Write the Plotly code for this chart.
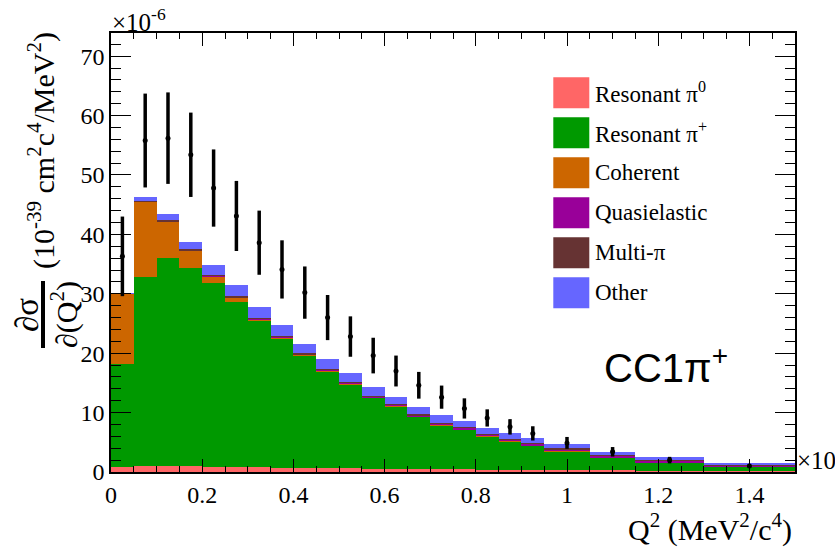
import plotly.graph_objects as go

# ---------------- data ----------------
bin_edges = [0.0, 0.05, 0.1, 0.15, 0.2, 0.25, 0.3, 0.35, 0.4, 0.45, 0.5, 0.55,
             0.6, 0.65, 0.7, 0.75, 0.8, 0.85, 0.9, 0.95, 1.05, 1.15, 1.3, 1.5]

res_pi0 = [0.9, 1.0, 1.0, 1.0, 0.9, 0.85, 0.8, 0.75, 0.7, 0.65, 0.6, 0.55,
           0.5, 0.5, 0.45, 0.45, 0.4, 0.4, 0.35, 0.3, 0.3, 0.25, 0.2]
res_pip = [17.3, 31.8, 35.0, 33.3, 31.0, 27.85, 24.7, 21.75, 18.9, 16.35, 14.2, 11.95,
           10.6, 8.8, 7.45, 6.65, 5.6, 4.8, 4.05, 3.2, 2.1, 1.35, 0.65]
coherent = [11.8, 12.7, 6.2, 3.0, 1.0, 0.6, 0.2, 0.15, 0.1, 0.08, 0.06, 0.05,
            0.05, 0.04, 0.03, 0.03, 0.02, 0.02, 0.02, 0.01, 0.01, 0.01, 0.0]
quasielastic = [0.0, 0.05, 0.05, 0.05, 0.1, 0.1, 0.1, 0.1, 0.15, 0.15, 0.2, 0.2,
                0.25, 0.25, 0.3, 0.3, 0.35, 0.3, 0.35, 0.35, 0.35, 0.3, 0.25]
multi_pi = [0.0, 0.05, 0.1, 0.15, 0.2, 0.2, 0.2, 0.2, 0.15, 0.15, 0.15, 0.1,
            0.1, 0.1, 0.1, 0.1, 0.1, 0.1, 0.1, 0.1, 0.1, 0.1, 0.1]
other = [0.1, 0.7, 1.15, 1.2, 1.7, 1.8, 1.8, 1.75, 1.6, 1.6, 1.4, 1.45,
         1.1, 1.3, 1.25, 1.05, 1.0, 1.0, 0.85, 0.75, 0.55, 0.5, 0.4]

data_y = [36.3, 55.8, 56.2, 53.4, 47.8, 43.1, 38.6, 34.1, 30.2, 26.0, 22.8, 19.6,
          17.0, 14.6, 12.6, 10.7, 9.1, 7.6, 6.5, 4.9, 3.4, 2.0, 1.0]
data_err = [6.7, 7.9, 7.7, 7.1, 6.5, 5.9, 5.4, 4.9, 4.4, 3.8, 3.4, 3.0,
            2.6, 2.25, 1.95, 1.7, 1.45, 1.3, 1.2, 1.0, 0.8, 0.55, 0.3]

x_tickvals = [0, 0.2, 0.4, 0.6, 0.8, 1.0, 1.2, 1.4]
x_ticktext = ["0", "0.2", "0.4", "0.6", "0.8", "1", "1.2", "1.4"]
y_tickvals = [0, 10, 20, 30, 40, 50, 60, 70]
y_ticktext = ["0", "10", "20", "30", "40", "50", "60", "70"]

series_names = ["Resonant π<sup>0</sup>", "Resonant π<sup>+</sup>", "Coherent",
                "Quasielastic", "Multi-π", "Other"]
series_colors = ["#FF6666", "#009900", "#CC6600", "#990099", "#663333", "#6666FF"]
series_values = [res_pi0, res_pip, coherent, quasielastic, multi_pi, other]

# ---------------- geometry helpers ----------------
W, H = 835, 547
L, R, T, B = 111, 795, 33, 472


def px(xp):
    return (xp - L) / (R - L)


def py(yp):
    return (B - yp) / (B - T)


centers = [(bin_edges[i] + bin_edges[i + 1]) / 2 for i in range(len(bin_edges) - 1)]
widths = [bin_edges[i + 1] - bin_edges[i] for i in range(len(bin_edges) - 1)]

serif = "Liberation Serif"
sans = "Liberation Sans"

fig = go.Figure()
for name, color, vals in zip(series_names, series_colors, series_values):
    fig.add_trace(go.Bar(x=centers, y=vals, width=widths, name=name,
                         marker=dict(color=color, line=dict(width=0)),
                         showlegend=False))

fig.add_trace(go.Scatter(x=centers, y=data_y, mode="markers", name="Data",
                         marker=dict(color="black", size=5),
                         error_y=dict(type="data", array=data_err, thickness=3.5,
                                      width=0, color="black"),
                         showlegend=False))

fig.update_layout(
    width=W, height=H, barmode="stack", bargap=0,
    plot_bgcolor="white", paper_bgcolor="white",
    margin=dict(l=L, r=W - R, t=T, b=H - B),
    font=dict(family=serif, size=24, color="black"),
)

fig.update_xaxes(range=[0, 1.5], showgrid=False, zeroline=False,
                 showline=True, linecolor="black", linewidth=1.5, mirror="ticks",
                 ticks="inside", ticklen=13, tickwidth=1.3, tickcolor="black",
                 tickvals=x_tickvals, ticktext=x_ticktext,
                 tickfont=dict(family=serif, size=24),
                 minor=dict(ticks="inside", dtick=0.05, ticklen=6, tickwidth=1.2,
                            tickcolor="black", showgrid=False))
fig.update_yaxes(range=[0, 73.9], showgrid=False, zeroline=False,
                 showline=True, linecolor="black", linewidth=1.5, mirror="ticks",
                 ticks="inside", ticklen=20, tickwidth=1.3, tickcolor="black",
                 tickvals=y_tickvals, ticktext=y_ticktext,
                 tickfont=dict(family=serif, size=24),
                 minor=dict(ticks="inside", dtick=2, ticklen=10, tickwidth=1.2,
                            tickcolor="black", showgrid=False))

ann = []
shapes = []

# exponent labels
ann.append(dict(xref="paper", yref="paper", x=px(110), y=py(33), xanchor="left",
                yanchor="bottom", yshift=-5, text="×10<sup>-6</sup>", showarrow=False,
                font=dict(family=serif, size=25)))
ann.append(dict(xref="paper", yref="paper", x=px(795), y=py(472), xanchor="left",
                yanchor="bottom", yshift=-4, text="×10", showarrow=False,
                font=dict(family=serif, size=25)))

# x title
ann.append(dict(xref="paper", yref="paper", x=px(794), y=py(527), xanchor="right",
                yanchor="middle", text="Q<sup>2</sup> (MeV<sup>2</sup>/c<sup>4</sup>)",
                showarrow=False, font=dict(family=serif, size=30)))

# y title (fraction + units)
ann.append(dict(xref="paper", yref="paper", x=px(27), y=py(315), xanchor="center",
                yanchor="middle", textangle=-90, text="∂σ", showarrow=False,
                font=dict(family=serif, size=33)))
ann.append(dict(xref="paper", yref="paper", x=px(64), y=py(315), xanchor="center",
                yanchor="middle", textangle=-90, text="∂(Q<sup>2</sup>)", showarrow=False,
                font=dict(family=serif, size=30)))
shapes.append(dict(type="line", xref="paper", yref="paper", x0=px(43), x1=px(43),
                   y0=py(281), y1=py(348), line=dict(color="black", width=4)))
ann.append(dict(xref="paper", yref="paper", x=px(41), y=py(151), xanchor="center",
                yanchor="middle", textangle=-90,
                text="(10<sup>-39</sup> cm<sup>2</sup>c<sup>4</sup>/MeV<sup>2</sup>)",
                showarrow=False, font=dict(family=serif, size=30)))

# CC1pi+ label
ann.append(dict(xref="paper", yref="paper", x=px(666), y=py(365), xanchor="center",
                yanchor="middle", text="CC1π<sup>+</sup>", showarrow=False,
                font=dict(family=sans, size=40)))

# legend (drawn)
for i, (name, color) in enumerate(zip(series_names, series_colors)):
    top = 77.3 + 40 * i
    shapes.append(dict(type="rect", xref="paper", yref="paper",
                       x0=px(553.3), x1=px(589.3), y0=py(top + 31), y1=py(top),
                       fillcolor=color, line=dict(width=0)))
    ann.append(dict(xref="paper", yref="paper", x=px(593), y=py(top + 15.5),
                    xanchor="left", yanchor="middle", text=name, showarrow=False,
                    font=dict(family=serif, size=23)))

fig.update_layout(annotations=ann, shapes=shapes)
fig.write_html("out.html", config={"displayModeBar": False},
               post_script="document.body.style.margin='0';"
                           "document.body.style.overflow='hidden';")
